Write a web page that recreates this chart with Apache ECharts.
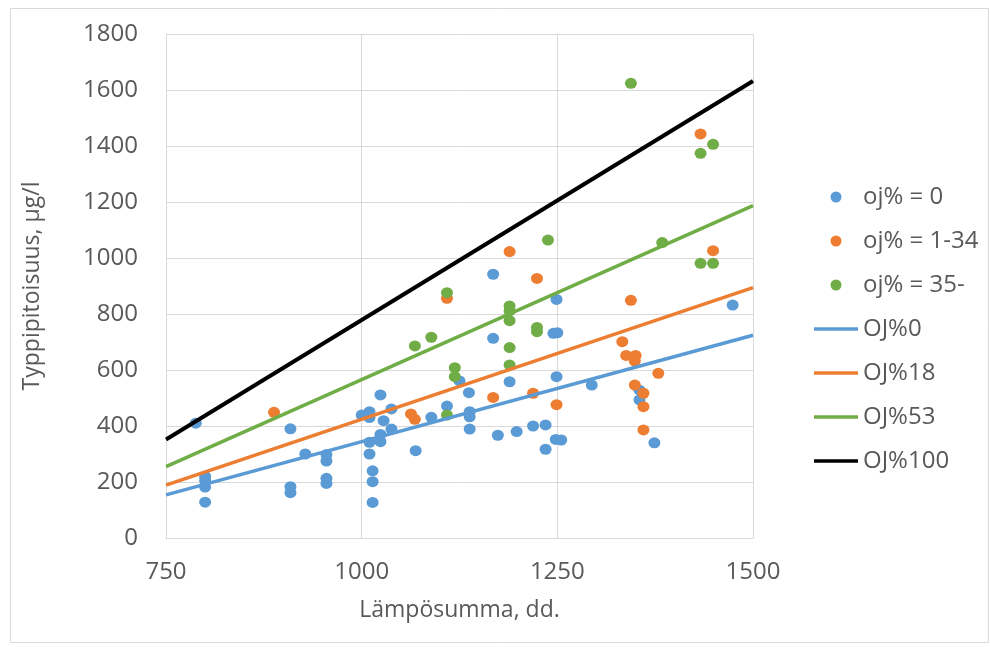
<!DOCTYPE html>
<html>
<head>
<meta charset="utf-8">
<script src="https://cdn.jsdelivr.net/npm/echarts@6/dist/echarts.min.js"></script>
<style>
html,body{margin:0;padding:0;background:#fff;}
#chart{width:990px;height:647px;}
</style>
</head>
<body>
<div id="chart"></div>
<script>
// Scatter data [Lämpösumma, Typpipitoisuus]
const oj0Points = [
  [788,410],[800,220],[800,205],[800,182],[800,128],[909,390],[909,183],[909,162],
  [928,300],[955,298],[955,275],[955,213],[955,195],[1000,439],[1010,451],[1010,430],
  [1024,511],[1038,461],[1028,419],[1038,389],[1024,370],[1024,344],[1010,342],[1010,300],
  [1014,240],[1014,201],[1014,127],[1069,312],[1089,431],[1109,471],[1137,519],[1138,451],
  [1138,433],[1138,389],[1125,561],[1168,942],[1168,713],[1189,558],[1249,852],[1245,731],
  [1250,733],[1249,576],[1294,546],[1174,367],[1198,380],[1219,400],[1235,404],[1248,352],
  [1255,350],[1235,317],[1355,528],[1355,493],[1374,340],[1474,832]
];
const oj1to34Points = [
  [888,449],[1063,443],[1068,424],[1109,856],[1189,1023],[1224,927],[1168,502],[1219,517],
  [1249,476],[1344,849],[1433,1443],[1449,1026],[1333,701],[1338,652],[1350,652],[1349,632],
  [1379,588],[1349,546],[1360,517],[1360,469],[1360,386]
];
const oj35Points = [
  [1109,876],[1068,686],[1089,717],[1189,829],[1189,811],[1189,776],[1224,752],[1224,737],
  [1189,680],[1189,618],[1119,608],[1119,576],[1238,1064],[1109,439],[1344,1624],[1433,1374],
  [1449,1406],[1384,1055],[1433,981],[1449,981]
];
// Model lines (endpoints at x = 750 and 1500)
const lineX = [750, 1500];
const oj0Line = [154, 724];
const oj18Line = [189, 894];
const oj53Line = [255, 1187];
const oj100Line = [352, 1632];

const scatterNames = ['oj% = 0', 'oj% = 1-34', 'oj% = 35-'];
const lineNames = ['OJ%0', 'OJ%18', 'OJ%53', 'OJ%100'];
const xTicks = [750, 1000, 1250, 1500];
const yTicks = [0, 200, 400, 600, 800, 1000, 1200, 1400, 1600, 1800];

const colors = ['#5B9BD5', '#ED7D31', '#70AD47', '#000000'];
const font = "'Open Sans', 'Noto Sans', sans-serif";
const textColor = '#595959';
const lineIcon = 'path://M0,0 L44,0 L44,3.5 L0,3.5 Z';

function pairs(ys){ return lineX.map((x,i)=>[x, ys[i]]); }

const chart = echarts.init(document.getElementById('chart'), null, {renderer:'canvas'});
const option = {
  animation: false,
  backgroundColor: '#fff',
  textStyle: {fontFamily: font},
  graphic: [{
    type: 'rect', left: 8, top: 6, silent: true,
    shape: {width: 978, height: 634},
    style: {fill: 'none', stroke: '#d9d9d9', lineWidth: 1}
  }],
  grid: {left: 166, right: 237, top: 34, bottom: 109, containLabel: false},
  legend: {
    orient: 'vertical', left: 814, top: 185, padding: 0,
    itemWidth: 44, itemHeight: 11, itemGap: 20,
    textStyle: {fontSize: 24, color: textColor, fontFamily: font, lineHeight: 24},
    data: scatterNames.map(n => ({name: n, icon: 'circle'}))
      .concat(lineNames.map(n => ({name: n, icon: lineIcon})))
  },
  xAxis: {
    type: 'value', min: xTicks[0], max: xTicks[xTicks.length-1], interval: 250,
    name: 'Lämpösumma, dd.', nameLocation: 'middle', nameGap: 61,
    nameTextStyle: {fontSize: 23, color: textColor, fontFamily: font},
    axisLine: {show: true, lineStyle: {color: '#d9d9d9', width: 1}},
    axisTick: {show: false},
    axisLabel: {fontSize: 24, color: textColor, margin: 22, fontFamily: font, formatter: v => String(v)},
    splitLine: {show: true, lineStyle: {color: '#d9d9d9', width: 1}}
  },
  yAxis: {
    type: 'value', min: yTicks[0], max: yTicks[yTicks.length-1], interval: 200,
    name: 'Typpipitoisuus, µg/l', nameLocation: 'middle', nameGap: 122, nameRotate: 90,
    nameTextStyle: {fontSize: 23, color: textColor, fontFamily: font},
    axisLine: {show: true, lineStyle: {color: '#d9d9d9', width: 1}},
    axisTick: {show: false},
    axisLabel: {fontSize: 24, color: textColor, margin: 28, fontFamily: font, formatter: v => String(v)},
    splitLine: {show: true, lineStyle: {color: '#d9d9d9', width: 1}}
  },
  series: [
    {name: scatterNames[0], type: 'scatter', data: oj0Points, symbolSize: [12, 11], itemStyle: {color: colors[0], opacity: 1}},
    {name: scatterNames[1], type: 'scatter', data: oj1to34Points, symbolSize: [12, 11], itemStyle: {color: colors[1], opacity: 1}},
    {name: scatterNames[2], type: 'scatter', data: oj35Points, symbolSize: [12, 11], itemStyle: {color: colors[2], opacity: 1}},
    {name: lineNames[0], type: 'line', data: pairs(oj0Line), symbol: 'none', showSymbol: false, lineStyle: {color: colors[0], width: 3.5}, itemStyle: {color: colors[0]}},
    {name: lineNames[1], type: 'line', data: pairs(oj18Line), symbol: 'none', showSymbol: false, lineStyle: {color: colors[1], width: 3.5}, itemStyle: {color: colors[1]}},
    {name: lineNames[2], type: 'line', data: pairs(oj53Line), symbol: 'none', showSymbol: false, lineStyle: {color: colors[2], width: 3.5}, itemStyle: {color: colors[2]}},
    {name: lineNames[3], type: 'line', data: pairs(oj100Line), symbol: 'none', showSymbol: false, lineStyle: {color: colors[3], width: 4}, itemStyle: {color: colors[3]}}
  ]
};
chart.setOption(option);
</script>
</body>
</html>
